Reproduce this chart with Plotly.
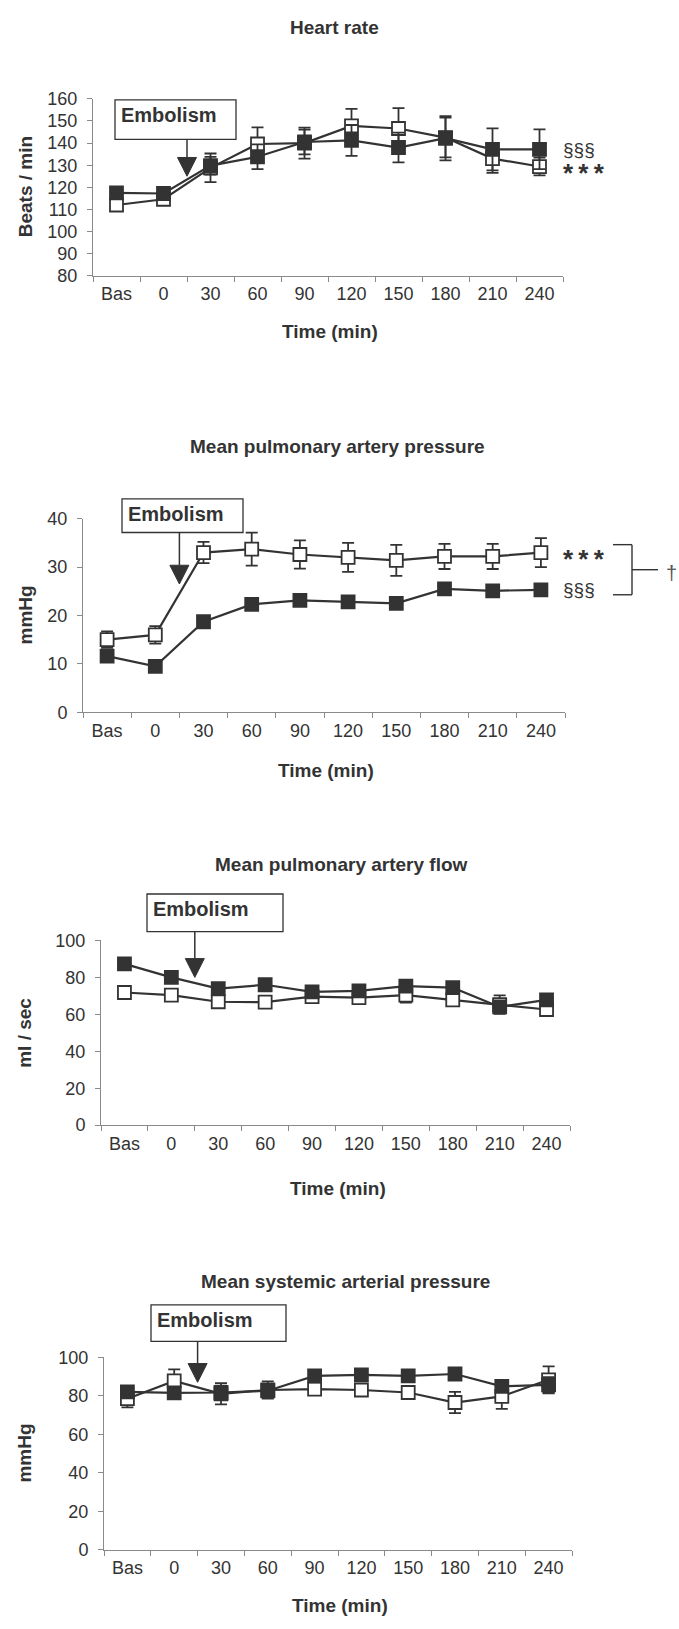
import plotly.graph_objects as go

# ---------------- data ----------------
categories = ["Bas", "0", "30", "60", "90", "120", "150", "180", "210", "240"]

hr_open = [112, 114.6, 128.8, 139.6, 140, 147.8, 146.6, 142.5, 133, 129.4]
hr_open_err = [2, 1.5, 6.5, 7.5, 7, 7.7, 9.2, 9, 6.5, 4]
hr_filled = [117.5, 117.2, 129.8, 133.8, 140.5, 141.2, 138, 142.2, 137.2, 137.2]
hr_filled_err = [2.5, 2, 4, 5.6, 5.6, 7, 6.7, 10, 9.5, 9]

mpap_open = [15.0, 16.0, 33.0, 33.7, 32.6, 32.0, 31.4, 32.2, 32.2, 33.0]
mpap_open_err = [1.7, 1.8, 2.2, 3.4, 2.9, 3.0, 3.2, 2.6, 2.6, 3.0]
mpap_filled = [11.6, 9.5, 18.7, 22.3, 23.1, 22.8, 22.5, 25.5, 25.1, 25.3]
mpap_filled_err = [1, 0.6, 0.8, 0.9, 0.8, 0.8, 0.8, 0.8, 0.9, 0.9]

mpaf_open = [71.8, 70.4, 66.8, 66.6, 69.6, 69.0, 70.4, 67.8, 65.2, 62.6]
mpaf_open_err = [2, 2, 2, 2, 2, 3, 4, 2, 5, 3]
mpaf_filled = [87.3, 80, 73.9, 76, 72.2, 72.7, 75.3, 74.4, 64, 67.8]
mpaf_filled_err = [1.5, 1.5, 2, 2, 2, 2.5, 2, 2, 2.5, 2.5]

msap_open = [78.5, 87.7, 81, 83, 83.4, 83, 81.7, 76.5, 79.7, 88.3]
msap_open_err = [4.5, 6, 5.5, 4.5, 3, 3, 3, 5.5, 6.5, 7]
msap_filled = [82, 81.5, 81.7, 82.6, 90.3, 90.8, 90.3, 91.3, 84.9, 85.7]
msap_filled_err = [2, 1.5, 2, 3, 2, 2.5, 2, 2, 2.5, 4]

titles = ["Heart rate", "Mean pulmonary artery pressure",
          "Mean pulmonary artery flow", "Mean systemic arterial pressure"]
ytitles = ["Beats / min", "mmHg", "ml / sec", "mmHg"]
yranges = [[80, 160], [0, 40], [0, 100], [0, 100]]
ydticks = [10, 10, 20, 20]
arrow_tip_values = [125, 26.5, 80, 87]

# ---------------- layout (pixels) ----------------
W, H = 679, 1629
FONT = "Liberation Sans, Arial, sans-serif"
INK = "#333333"
AXIS = "#8a8a8a"

# plot boxes: left, right, top, bottom
boxes = [(93, 563, 90, 269), (83, 565, 515, 711), (101, 570, 942, 1129), (104, 572, 1364, 1559)]
title_pos = [(334, 18), (337, 442), (341, 865), (345, 1287)]
xtitle_y = [326, 770, 1193, 1615]
emb_boxes = [(115, 236, 91, 131), (122, 243, 495, 529), (147, 283, 895, 933), (151, 286, 1311, 1348)]


def fx(p):
    return p / W


def fy(p):
    return 1 - p / H


def val_py(i, v):
    l, r, t, b = boxes[i]
    lo, hi = yranges[i]
    return b - (v - lo) / (hi - lo) * (b - t)


def cat_px(i, idx):
    l, r, t, b = boxes[i]
    cw = (r - l) / len(categories)
    return l + (idx + 0.5) * cw


series = [
    (hr_open, hr_open_err, hr_filled, hr_filled_err),
    (mpap_open, mpap_open_err, mpap_filled, mpap_filled_err),
    (mpaf_open, mpaf_open_err, mpaf_filled, mpaf_filled_err),
    (msap_open, msap_open_err, msap_filled, msap_filled_err),
]

fig = go.Figure()
shapes = []
annotations = []

for i in range(4):
    xa = "x" if i == 0 else f"x{i+1}"
    ya = "y" if i == 0 else f"y{i+1}"
    o, oe, f, fe = series[i]
    for vals, errs, fill in ((o, oe, "white"), (f, fe, INK)):
        fig.add_trace(go.Scatter(
            x=categories, y=vals, xaxis=xa, yaxis=ya, mode="lines+markers",
            line=dict(color=INK, width=2.2),
            marker=dict(symbol="square", size=13, color=fill, line=dict(color=INK, width=1.8)),
            error_y=dict(type="data", array=errs, visible=True, color=INK, thickness=1.8, width=6),
            showlegend=False, hoverinfo="skip", cliponaxis=False,
        ))
    l, r, t, b = boxes[i]
    axkey = "xaxis" if i == 0 else f"xaxis{i+1}"
    aykey = "yaxis" if i == 0 else f"yaxis{i+1}"
    fig.layout[axkey] = dict(
        domain=[fx(l), fx(r)], anchor=ya, type="category", tickson="boundaries",
        showline=True, linecolor=AXIS, linewidth=1, ticks="outside", ticklen=5,
        tickcolor=AXIS, showgrid=False, zeroline=False,
        tickfont=dict(family=FONT, size=18, color=INK), ticklabelstandoff=2,
        range=[-0.5, len(categories) - 0.5], fixedrange=True,
    )
    lo, hi = yranges[i]
    fig.layout[aykey] = dict(
        domain=[fy(b), fy(t)], anchor=xa, range=[lo, hi], dtick=ydticks[i], tick0=lo,
        showline=True, linecolor=AXIS, linewidth=1, ticks="outside", ticklen=5,
        tickcolor=AXIS, showgrid=False, zeroline=False,
        tickfont=dict(family=FONT, size=18, color=INK), ticklabelstandoff=6, fixedrange=True,
    )
    # title
    tx, ty = title_pos[i]
    annotations.append(dict(x=fx(tx), y=fy(ty), xref="paper", yref="paper", text=titles[i],
                            showarrow=False, xanchor="center", yanchor="middle",
                            font=dict(family=FONT, size=19, color=INK, weight="bold")))
    # x title
    annotations.append(dict(x=fx((l + r) / 2 + 2), y=fy(xtitle_y[i]), xref="paper", yref="paper",
                            text="Time (min)", showarrow=False, xanchor="center", yanchor="middle",
                            font=dict(family=FONT, size=19, color=INK, weight="bold")))
    # y title
    annotations.append(dict(x=fx(25), y=fy((t + b) / 2), xref="paper", yref="paper",
                            text=ytitles[i], showarrow=False, textangle=-90,
                            xanchor="center", yanchor="middle",
                            font=dict(family=FONT, size=19, color=INK, weight="bold")))
    # Embolism box
    bl, br, bt, bb = emb_boxes[i]
    shapes.append(dict(type="rect", xref="paper", yref="paper", x0=fx(bl), x1=fx(br),
                       y0=fy(bb), y1=fy(bt), line=dict(color=INK, width=1.3), fillcolor="white"))
    annotations.append(dict(x=fx(bl + 4), y=fy(bt + 15), xref="paper", yref="paper",
                            text="Embolism", showarrow=False, xanchor="left", yanchor="middle",
                            font=dict(family=FONT, size=20, color=INK, weight="bold")))
    # arrow at boundary between "0" and "30"
    ax = (cat_px(i, 1) + cat_px(i, 2)) / 2
    tip = val_py(i, arrow_tip_values[i])
    head_top = tip - 19
    shapes.append(dict(type="line", xref="paper", yref="paper", x0=fx(ax), x1=fx(ax),
                       y0=fy(bb), y1=fy(head_top), line=dict(color=INK, width=1.5)))
    shapes.append(dict(type="path", xref="paper", yref="paper",
                       path=f"M {fx(ax-9.5)} {fy(head_top)} L {fx(ax+9.5)} {fy(head_top)} L {fx(ax)} {fy(tip)} Z",
                       fillcolor=INK, line=dict(color=INK, width=1)))

STARS = "*\u2009*\u2009*"
# significance marks panel 1
annotations.append(dict(x=fx(561), y=hr_filled[-1], xref="paper", yref="y", text="§§§",
                        showarrow=False, xanchor="left", yanchor="middle",
                        font=dict(family=FONT, size=19, color=INK)))
annotations.append(dict(x=fx(561), y=hr_open[-1], xref="paper", yref="y", text=STARS,
                        showarrow=False, xanchor="left", yanchor="middle", yshift=-6,
                        font=dict(family=FONT, size=26, color=INK, weight="bold")))
# significance marks panel 2
annotations.append(dict(x=fx(561), y=mpap_filled[-1], xref="paper", yref="y2", text="§§§",
                        showarrow=False, xanchor="left", yanchor="middle",
                        font=dict(family=FONT, size=19, color=INK)))
annotations.append(dict(x=fx(561), y=mpap_open[-1], xref="paper", yref="y2", text=STARS,
                        showarrow=False, xanchor="left", yanchor="middle", yshift=-6,
                        font=dict(family=FONT, size=26, color=INK, weight="bold")))
# bracket
by_top = val_py(1, mpap_open[-1]) - 8
by_bot = val_py(1, mpap_filled[-1]) + 5
by_mid = (by_top + by_bot) / 2
bx0, bx1, bx2 = 613, 632, 658
for (xa0, ya0, xa1, ya1) in [(bx0, by_top, bx1, by_top), (bx1, by_top, bx1, by_bot),
                             (bx0, by_bot, bx1, by_bot), (bx1, by_mid, bx2, by_mid)]:
    shapes.append(dict(type="line", xref="paper", yref="paper", x0=fx(xa0), y0=fy(ya0),
                       x1=fx(xa1), y1=fy(ya1), line=dict(color=INK, width=1.4)))
annotations.append(dict(x=fx(671), y=fy(by_mid + 3), xref="paper", yref="paper", text="†",
                        showarrow=False, xanchor="center", yanchor="middle",
                        font=dict(family=FONT, size=20, color="#555555")))

fig.update_layout(
    width=W, height=H, margin=dict(l=0, r=0, t=0, b=0),
    paper_bgcolor="white", plot_bgcolor="white",
    shapes=shapes, annotations=annotations, showlegend=False,
)

fig.write_html("out.html")
